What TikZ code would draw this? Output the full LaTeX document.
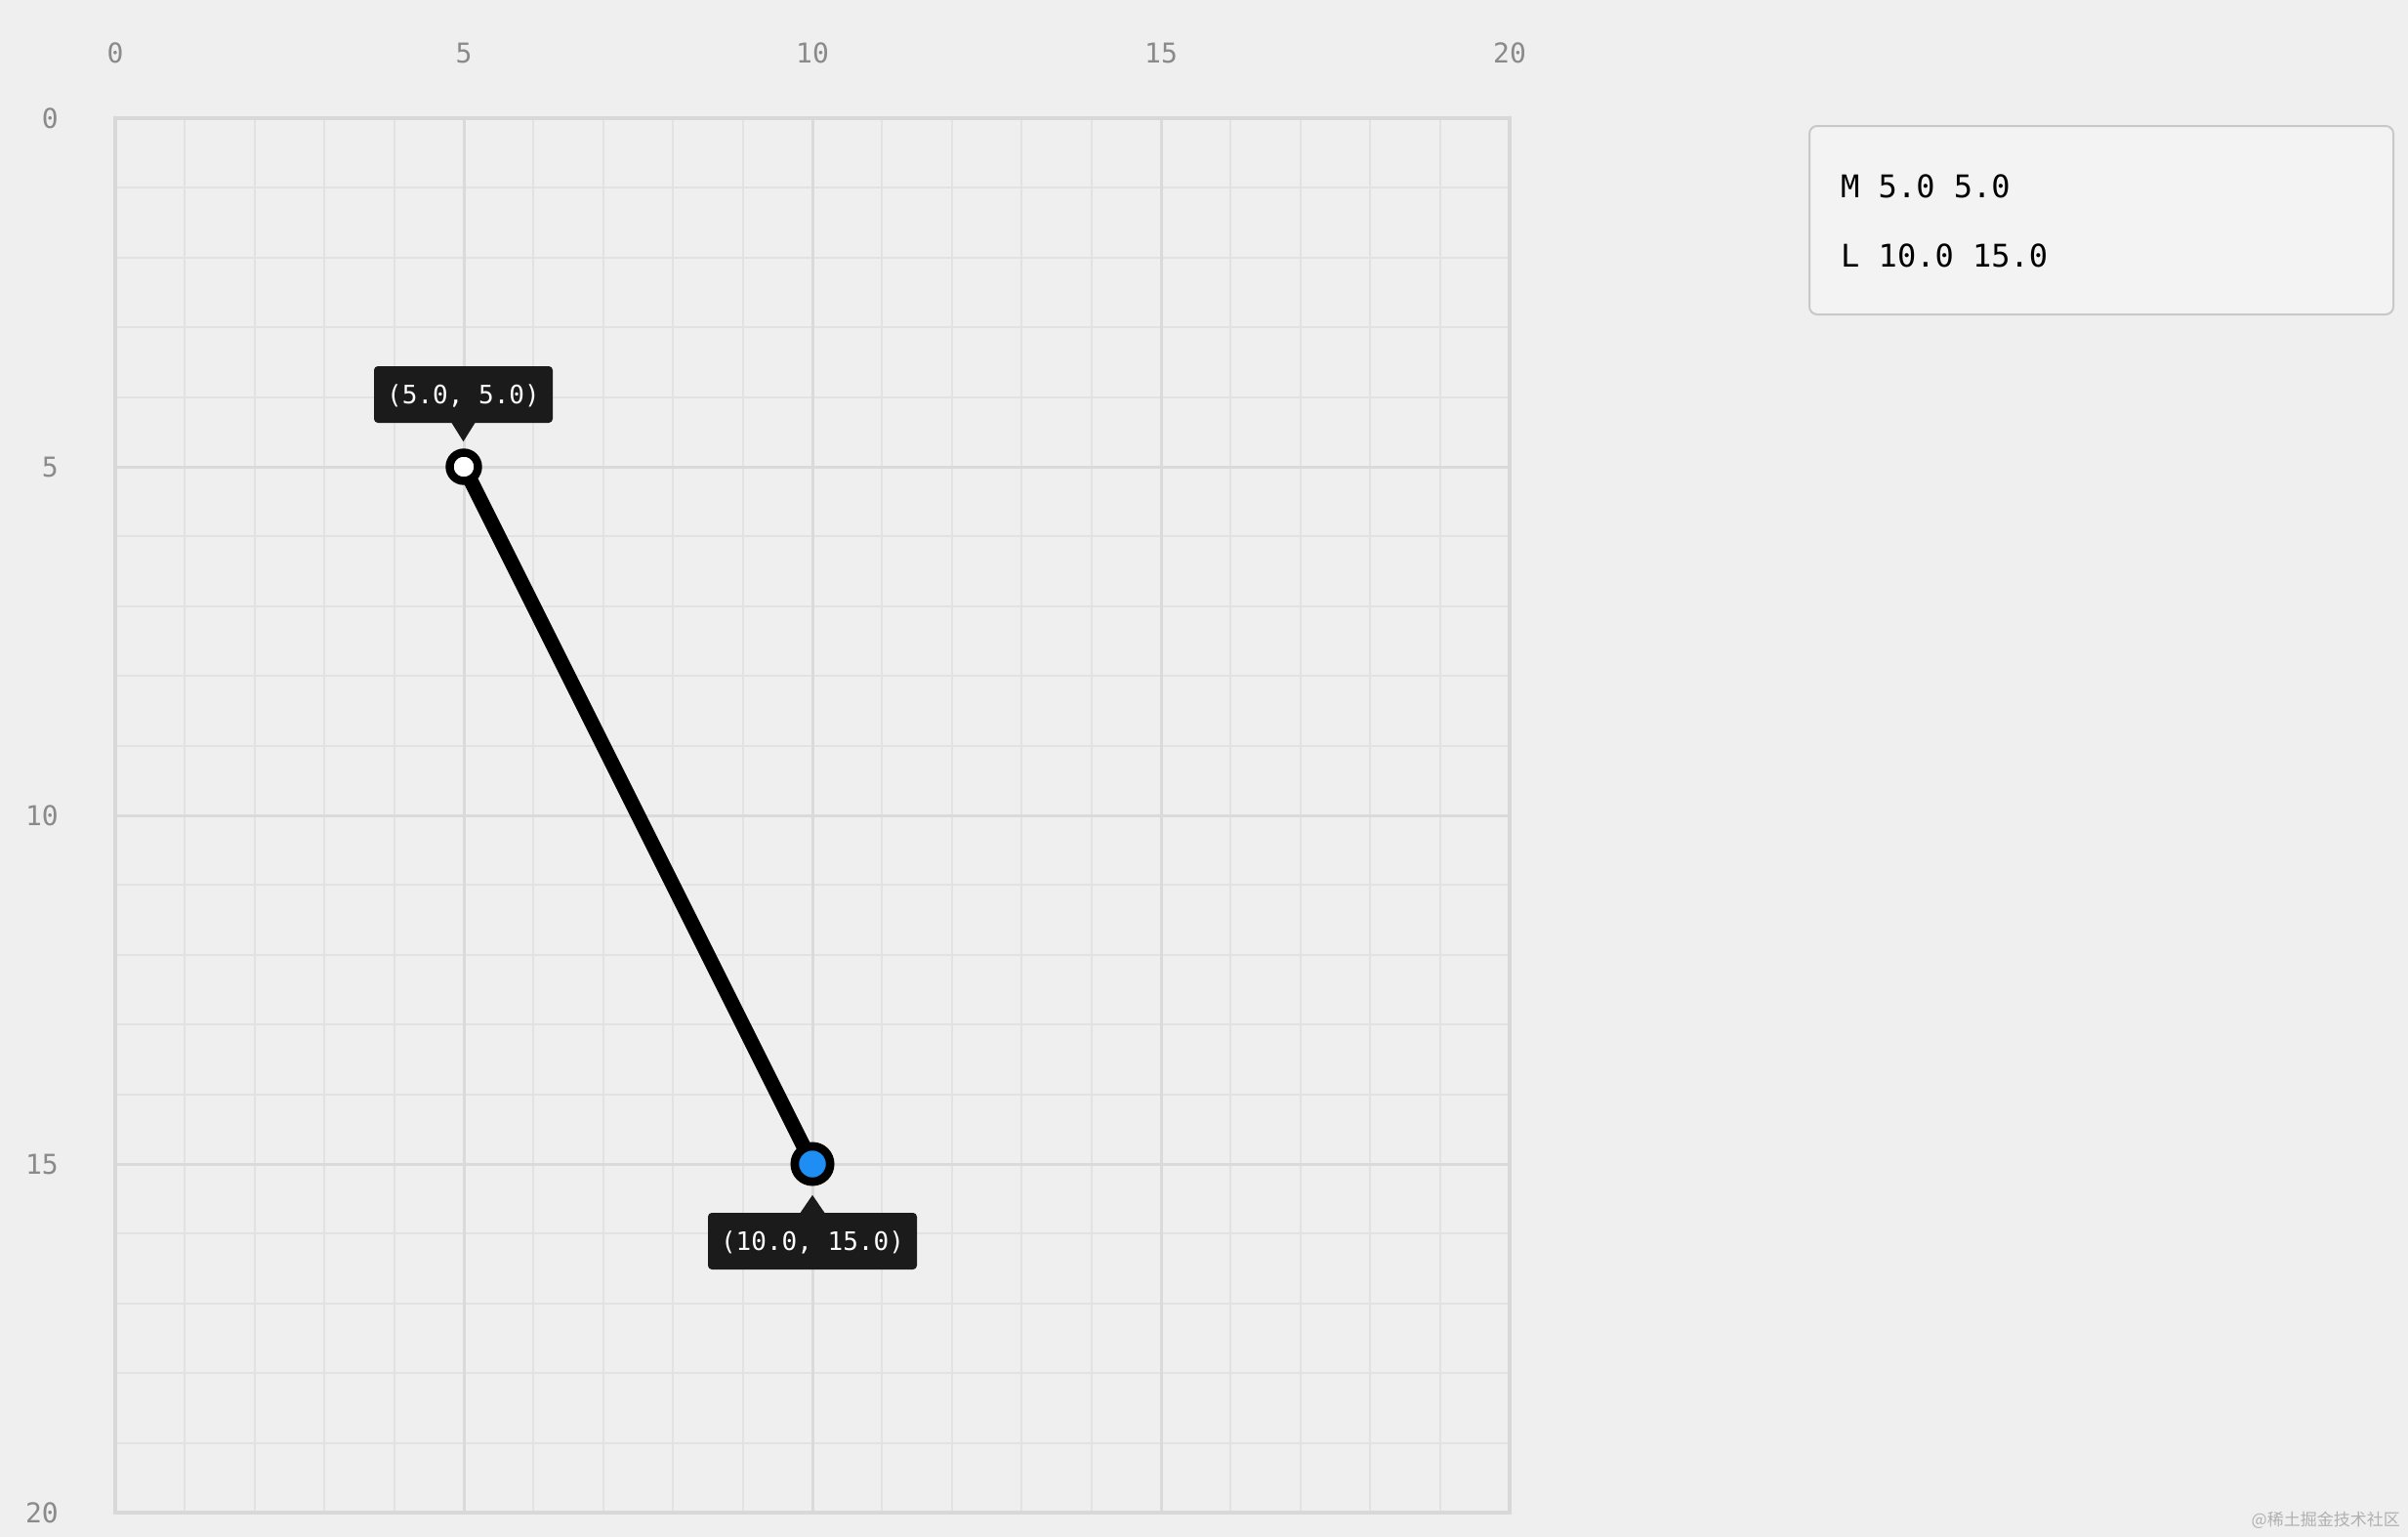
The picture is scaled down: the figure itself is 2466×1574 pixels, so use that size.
\documentclass[tikz,border=0pt]{standalone}
\usepackage{fontspec}
\setmonofont{DejaVu Sans Mono}
\newfontfamily\cjk{Noto Sans CJK SC}
\usetikzlibrary{calc}
\definecolor{bg}{HTML}{EFEFEF}
\definecolor{minorc}{HTML}{E2E2E2}
\definecolor{majorc}{HTML}{DADADA}
\definecolor{borderc}{HTML}{D8D8D8}
\definecolor{axisc}{HTML}{8A8A8A}
\definecolor{tipc}{HTML}{1B1B1B}
\definecolor{bluec}{HTML}{1E8EF5}
\definecolor{codebg}{HTML}{F3F3F3}
\definecolor{codeborder}{HTML}{C8C8C8}
\definecolor{wmc}{HTML}{B0B0B0}
\begin{document}
\begin{tikzpicture}[x=1pt,y=-1pt,
  minorline/.style={draw=minorc,line width=2},
  majorline/.style={draw=majorc,line width=3},
  borderline/.style={draw=borderc,line width=4},
  axlab/.style={inner sep=0,text=axisc,font=\fontsize{28}{32}\selectfont\ttfamily},
  tipbox/.style={fill=tipc,rounded corners=4,inner sep=0,minimum height=58,text=white,
    text height=19pt,text depth=0pt,font=\fontsize{26}{30}\selectfont\ttfamily},
  tiparrow/.style={fill=tipc},
  pathline/.style={draw=black,line width=15},
  startpt/.style={circle,draw=black,line width=8.4,fill=white,minimum size=29,inner sep=0},
  endpt/.style={circle,draw=black,line width=8.7,fill=bluec,minimum size=36.3,inner sep=0},
  codebox/.style={draw=codeborder,line width=2,fill=codebg,rounded corners=8,inner sep=0,
    minimum width=598,minimum height=193},
  codetext/.style={inner sep=0,anchor=base west,font=\fontsize{32}{36}\selectfont\ttfamily},
  wm/.style={inner sep=0,anchor=east,text=wmc,font=\fontsize{17}{20}\selectfont\cjk}
]
\fill[bg] (0,0) rectangle (2466,1574);
\useasboundingbox (0,0) rectangle (2466,1574);
% grid
\foreach \i in {1,...,19}{
  \draw[minorline] ({118+\i*71.4},121) -- ({118+\i*71.4},1549);
  \draw[minorline] (118,{121+\i*71.4}) -- (1546,{121+\i*71.4});
}
\foreach \i in {5,10,15}{
  \draw[majorline] ({118+\i*71.4},121) -- ({118+\i*71.4},1549);
  \draw[majorline] (118,{121+\i*71.4}) -- (1546,{121+\i*71.4});
}
\draw[borderline] (118,121) rectangle (1546,1549);
% axis labels
\foreach \i in {0,5,10,15,20}{
  \node[axlab] (tx\i) at ({118+\i*71.4},54) {\i};
  \node[axlab,anchor=east] (ly\i) at (60,{121+\i*71.4}) {\i};
}
% path
\coordinate (A) at (475,478);
\coordinate (B) at (832,1192);
\draw[pathline] (A) -- (B);
\node[startpt] (pA) at (A) {};
\node[endpt] (pB) at (B) {};
% tooltips
\node[tipbox,minimum width=183] (tipA) at (474.5,404) {(5.0, 5.0)};
\fill[tiparrow] ($(tipA.south)+(-12.5,-1)$) -- ($(tipA.south)+(12.5,-1)$) -- ($(tipA.south)+(0,19)$) -- cycle;
\node[tipbox,minimum width=214] (tipB) at (832,1271) {(10.0, 15.0)};
\fill[tiparrow] ($(tipB.north)+(-13,1)$) -- ($(tipB.north)+(13,1)$) -- ($(tipB.north)+(0,-18)$) -- cycle;
% code panel
\node[codebox] (code) at (2152,225.5) {};
\node[codetext] (c1) at (1885,202) {M 5.0 5.0};
\node[codetext] (c2) at (1885,273) {L 10.0 15.0};
% watermark
\node[wm] (wmk) at (2458,1557) {@稀土掘金技术社区};
\end{tikzpicture}
\end{document}
